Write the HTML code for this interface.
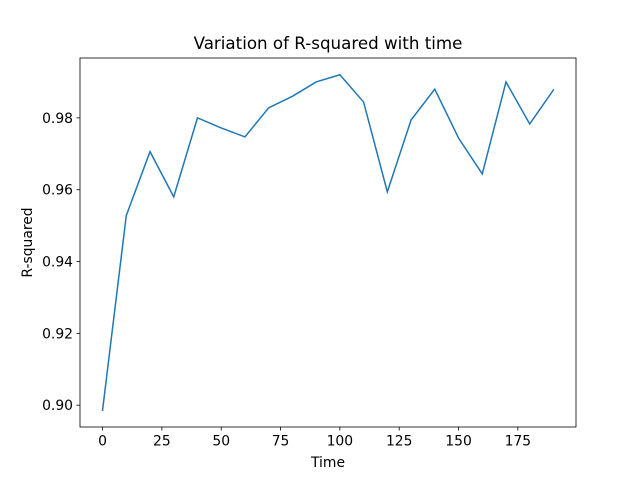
<!DOCTYPE html>
<html><head><meta charset="utf-8"><style>
body{margin:0;background:#fff;}
svg text{font-family:"DejaVu Sans","Liberation Sans",sans-serif;fill:#000;}
</style></head><body>
<svg id="chart" width="640" height="480" xmlns="http://www.w3.org/2000/svg">
<rect width="640" height="480" fill="#fff"/>
<text x="328" y="49" font-size="16.7" text-anchor="middle">Variation of R-squared with time</text>
<g id="xt"></g>
<g id="yt"></g>
<path id="line" fill="none" stroke="#1f77b4" stroke-width="1.5" stroke-linecap="square"/>
<rect x="80" y="58" width="496" height="369" fill="none" stroke="#000" stroke-width="0.8"/>
<text x="328" y="467" font-size="13.9" text-anchor="middle">Time</text>
<text transform="translate(32,242.5) rotate(-90)" font-size="13.9" text-anchor="middle">R-squared</text>
</svg>
<script>
const times=[0,10,20,30,40,50,60,70,80,90,100,110,120,130,140,150,160,170,180,190];
const rsq=[0.8986,0.9528,0.9706,0.958,0.980,0.9772,0.9747,0.9828,0.986,0.990,0.992,0.9844,0.9594,0.9794,0.988,0.9744,0.9644,0.990,0.9783,0.9878];
const xTicks=[0,25,50,75,100,125,150,175];
const yTicks=[0.90,0.92,0.94,0.96,0.98];
const yLabels=["0.90","0.92","0.94","0.96","0.98"];
const L=80,R=576,T=58,B=427;
const xmin=Math.min(...times),xmax=Math.max(...times),xp=(xmax-xmin)*0.05;
const ymin=Math.min(...rsq),ymax=Math.max(...rsq),yp=(ymax-ymin)*0.05;
const sx=v=>L+(v-(xmin-xp))/((xmax+xp)-(xmin-xp))*(R-L);
const sy=v=>B-(v-(ymin-yp))/((ymax+yp)-(ymin-yp))*(B-T);
const NS="http://www.w3.org/2000/svg";
const xt=document.getElementById('xt'),yt=document.getElementById('yt');
xTicks.forEach(t=>{
 const x=sx(t);
 const l=document.createElementNS(NS,'line');
 l.setAttribute('x1',x);l.setAttribute('x2',x);l.setAttribute('y1',B);l.setAttribute('y2',B+3.5);l.setAttribute('stroke','#000');l.setAttribute('stroke-width','0.8');
 
 
 xt.appendChild(l);
 const s=document.createElementNS(NS,'text');
 s.setAttribute('x',x);s.setAttribute('y',B+18.5);s.setAttribute('font-size','13.9');s.setAttribute('text-anchor','middle');s.textContent=t;
 
 
 xt.appendChild(s);
});
yTicks.forEach((t,i)=>{
 const y=sy(t);
 const l=document.createElementNS(NS,'line');
 l.setAttribute('x1',L-3.5);l.setAttribute('x2',L);l.setAttribute('y1',y);l.setAttribute('y2',y);l.setAttribute('stroke','#000');l.setAttribute('stroke-width','0.8');
 
 
 yt.appendChild(l);
 const s=document.createElementNS(NS,'text');
 s.setAttribute('x',L-7);s.setAttribute('y',y+5);s.setAttribute('font-size','13.9');s.setAttribute('text-anchor','end');s.textContent=yLabels[i];
 
 
 yt.appendChild(s);
});
document.getElementById('line').setAttribute('d',times.map((t,i)=>(i?'L':'M')+sx(t).toFixed(2)+','+sy(rsq[i]).toFixed(2)).join(''));
</script>
</body></html>
